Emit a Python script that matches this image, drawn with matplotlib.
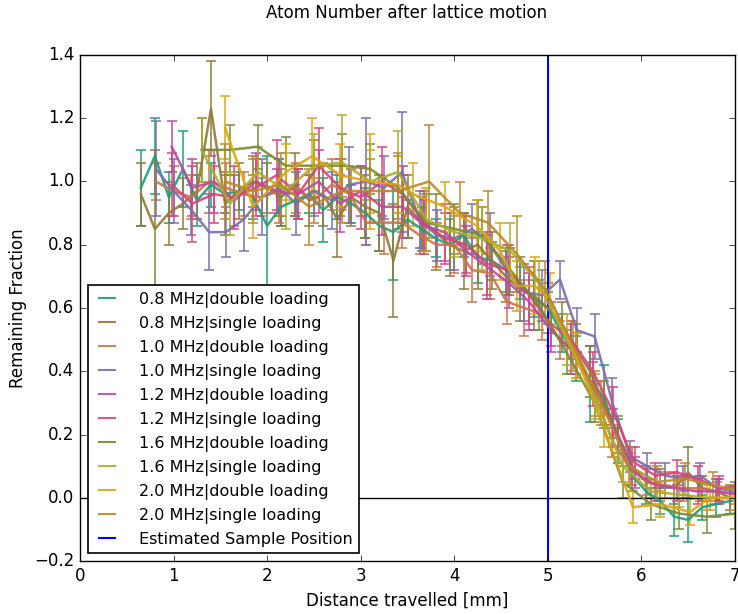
import matplotlib
matplotlib.use("Agg")
import matplotlib.pyplot as plt
from matplotlib.lines import Line2D

plt.style.use('classic')
plt.rcParams['font.family'] = ['DejaVu Sans']

labels = ['0.8 MHz|double loading', '0.8 MHz|single loading',
          '1.0 MHz|double loading', '1.0 MHz|single loading',
          '1.2 MHz|double loading', '1.2 MHz|single loading',
          '1.6 MHz|double loading', '1.6 MHz|single loading',
          '2.0 MHz|double loading', '2.0 MHz|single loading']
colors = ['#1f9e78', '#8f7a3b', '#cb7448', '#7c6ead', '#c247a0',
          '#d9437b', '#7a8b31', '#a9ae2e', '#daa611', '#bd8829']

x08 = [0.65, 0.80, 0.95, 1.10, 1.25, 1.40, 1.55, 1.70, 1.85, 2.00, 2.15, 2.30, 2.45, 2.60,
       2.75, 2.90, 3.05, 3.20, 3.35, 3.50, 3.65, 3.80, 3.95, 4.10, 4.25, 4.40, 4.55, 4.70,
       4.85, 5.00, 5.15, 5.30, 5.45, 5.60, 5.75, 5.90, 6.05, 6.20, 6.35, 6.50, 6.65, 6.80, 6.95]
x10 = [0.81, 1.00, 1.19, 1.38, 1.56, 1.75, 1.94, 2.13, 2.31, 2.50, 2.69, 2.88, 3.06, 3.25,
       3.44, 3.63, 3.81, 4.00, 4.19, 4.38, 4.56, 4.75, 4.94, 5.13, 5.31, 5.50, 5.69, 5.88,
       6.06, 6.25, 6.44, 6.63, 6.81, 7.00]
x12 = [0.98, 1.20, 1.43, 1.65, 1.88, 2.10, 2.33, 2.55, 2.78, 3.00, 3.23, 3.45, 3.68, 3.90,
       4.13, 4.35, 4.58, 4.80, 5.03, 5.25, 5.48, 5.70, 5.93, 6.15, 6.38, 6.60, 6.83, 7.05]
x16 = [1.30, 1.60, 1.90, 2.20, 2.50, 2.80, 3.10, 3.40, 3.70, 4.00, 4.30, 4.60, 4.90, 5.20,
       5.50, 5.80, 6.10, 6.40, 6.70, 7.00]
x20d = [1.55, 1.85, 2.20, 2.48, 2.78, 3.10, 3.40, 3.56, 3.90, 4.24, 4.49, 4.67, 4.86, 5.02,
        5.30, 5.60, 5.91, 6.20, 6.52, 6.73, 7.00]
x20s = [1.55, 1.85, 2.15, 2.45, 2.80, 3.10, 3.40, 3.73, 4.06, 4.36, 4.67, 4.97, 5.27, 5.57,
        5.87, 6.17, 6.47, 6.77, 7.07]

y1 = [0.98, 1.08, 0.95, 1.04, 0.94, 0.99, 0.96, 0.97, 0.95, 0.86, 0.92, 0.94, 0.96, 0.91,
      0.95, 0.93, 0.90, 0.86, 0.84, 0.88, 0.85, 0.82, 0.80, 0.83, 0.76, 0.75, 0.72, 0.68,
      0.63, 0.60, 0.52, 0.44, 0.36, 0.32, 0.18, 0.07, 0.02, -0.01, -0.06, -0.07, -0.03, -0.02, -0.01]
e1 = [0.12, 0.12, 0.08, 0.12, 0.08, 0.07, 0.06, 0.06, 0.07, 0.22, 0.06, 0.05, 0.06, 0.10,
      0.07, 0.06, 0.08, 0.08, 0.15, 0.06, 0.07, 0.06, 0.08, 0.07, 0.08, 0.06, 0.07, 0.05,
      0.06, 0.05, 0.06, 0.07, 0.12, 0.10, 0.07, 0.05, 0.04, 0.04, 0.06, 0.07, 0.04, 0.04, 0.04]
y2 = [0.96, 0.85, 0.90, 0.93, 0.97, 1.23, 0.93, 0.97, 1.00, 0.98, 0.95, 0.99, 0.94, 0.96,
      0.88, 0.95, 0.92, 0.90, 0.75, 0.92, 0.87, 0.84, 0.80, 0.78, 0.80, 0.75, 0.70, 0.66,
      0.64, 0.60, 0.55, 0.47, 0.40, 0.30, 0.20, 0.10, 0.05, 0.04, 0.03, 0.08, 0.03, 0.02, 0.00]
e2 = [0.10, 0.25, 0.10, 0.08, 0.09, 0.15, 0.10, 0.09, 0.08, 0.08, 0.09, 0.10, 0.08, 0.10,
      0.12, 0.09, 0.10, 0.12, 0.18, 0.10, 0.08, 0.12, 0.10, 0.12, 0.14, 0.09, 0.08, 0.10,
      0.11, 0.08, 0.07, 0.08, 0.08, 0.07, 0.06, 0.06, 0.05, 0.05, 0.05, 0.08, 0.04, 0.04, 0.04]
y3 = [1.00, 0.97, 0.95, 1.00, 0.98, 0.96, 0.95, 0.97, 0.98, 0.94, 0.99, 0.96, 0.87, 0.87,
      0.87, 0.83, 0.80, 0.80, 0.72, 0.71, 0.62, 0.60, 0.58, 0.50, 0.45, 0.33, 0.18, 0.09,
      0.05, 0.04, 0.03, 0.03, 0.02, 0.01]
e3 = [0.06, 0.08, 0.07, 0.10, 0.08, 0.07, 0.06, 0.10, 0.08, 0.07, 0.08, 0.09, 0.07, 0.10,
      0.08, 0.06, 0.07, 0.09, 0.10, 0.08, 0.07, 0.09, 0.08, 0.06, 0.07, 0.07, 0.05, 0.05,
      0.04, 0.04, 0.04, 0.04, 0.03, 0.03]
y4 = [1.04, 0.97, 0.91, 0.84, 0.84, 0.88, 0.95, 0.98, 0.93, 0.97, 0.94, 0.99, 1.00, 0.98,
      1.03, 0.88, 0.83, 0.82, 0.85, 0.80, 0.72, 0.65, 0.64, 0.69, 0.53, 0.51, 0.30, 0.13,
      0.10, 0.07, 0.06, 0.07, 0.03, 0.02]
e4 = [0.15, 0.10, 0.08, 0.12, 0.08, 0.10, 0.12, 0.09, 0.10, 0.08, 0.09, 0.12, 0.20, 0.10,
      0.19, 0.09, 0.08, 0.10, 0.08, 0.10, 0.08, 0.09, 0.08, 0.06, 0.07, 0.07, 0.08, 0.05,
      0.04, 0.04, 0.04, 0.04, 0.03, 0.03]
y5 = [1.11, 0.98, 1.00, 0.94, 1.00, 0.97, 0.96, 1.00, 0.93, 0.97, 0.92, 0.92, 0.86, 0.84,
      0.78, 0.73, 0.68, 0.62, 0.53, 0.47, 0.36, 0.22, 0.08, 0.04, 0.03, 0.02, 0.02, 0.01]
e5 = [0.08, 0.09, 0.10, 0.08, 0.09, 0.07, 0.08, 0.10, 0.09, 0.08, 0.09, 0.10, 0.08, 0.09,
      0.08, 0.10, 0.08, 0.09, 0.07, 0.08, 0.07, 0.06, 0.05, 0.05, 0.04, 0.04, 0.04, 0.03]
y6 = [0.99, 0.93, 0.96, 0.95, 0.98, 1.02, 0.96, 1.05, 0.98, 0.95, 1.00, 0.96, 0.87, 0.82,
      0.80, 0.74, 0.72, 0.64, 0.55, 0.50, 0.40, 0.27, 0.11, 0.07, 0.08, 0.06, 0.03, 0.04]
e6 = [0.10, 0.12, 0.09, 0.10, 0.09, 0.11, 0.08, 0.12, 0.09, 0.10, 0.11, 0.09, 0.10, 0.08,
      0.09, 0.10, 0.08, 0.09, 0.07, 0.06, 0.06, 0.08, 0.05, 0.04, 0.04, 0.04, 0.04, 0.03]
y7 = [1.10, 1.10, 1.11, 1.05, 1.05, 1.05, 1.04, 0.98, 0.87, 0.85, 0.83, 0.72, 0.61, 0.46,
      0.30, 0.05, -0.02, -0.05, -0.06, -0.05]
e7 = [0.10, 0.08, 0.07, 0.09, 0.08, 0.10, 0.08, 0.10, 0.09, 0.08, 0.09, 0.07, 0.08, 0.07,
      0.06, 0.05, 0.05, 0.05, 0.05, 0.05]
y8 = [1.10, 0.93, 1.03, 0.97, 1.05, 1.06, 1.00, 1.03, 0.88, 0.84, 0.82, 0.78, 0.68, 0.50,
      0.32, 0.10, 0.02, 0.01, 0.00, 0.00]
e8 = [0.10, 0.10, 0.08, 0.12, 0.10, 0.15, 0.10, 0.13, 0.10, 0.08, 0.10, 0.09, 0.07, 0.08,
      0.07, 0.05, 0.04, 0.04, 0.04, 0.04]
y9 = [1.17, 0.92, 1.03, 1.08, 1.02, 1.00, 0.99, 0.96, 0.92, 0.86, 0.78, 0.67, 0.67, 0.63,
      0.45, 0.22, -0.03, -0.02, -0.045, 0.00, 0.00]
e9 = [0.10, 0.10, 0.09, 0.12, 0.10, 0.15, 0.09, 0.10, 0.08, 0.08, 0.09, 0.08, 0.09, 0.08,
      0.07, 0.06, 0.05, 0.04, 0.04, 0.04, 0.04]
y10 = [1.00, 0.97, 0.99, 0.92, 0.97, 0.97, 0.97, 1.00, 0.90, 0.87, 0.77, 0.66, 0.48, 0.30,
       0.10, 0.05, 0.06, 0.04, 0.02]
e10 = [0.12, 0.10, 0.10, 0.12, 0.10, 0.10, 0.12, 0.18, 0.10, 0.10, 0.12, 0.09, 0.08, 0.07,
       0.06, 0.05, 0.05, 0.04, 0.04]

xs = [x08, x08, x10, x10, x12, x12, x16, x16, x20d, x20s]
ys = [y1, y2, y3, y4, y5, y6, y7, y8, y9, y10]
es = [e1, e2, e3, e4, e5, e6, e7, e8, e9, e10]

sample_pos = 5.0

fig = plt.figure(figsize=(7.38, 6.14), dpi=100, facecolor='white')
ax = fig.add_axes([80/738, 1-561/614, 655/738, 506/614])

handles = []
for x, y, e, c, lab in zip(xs, ys, es, colors, labels):
    ax.errorbar(x, y, yerr=e, color=c, lw=1.8, elinewidth=1.2, capsize=3.5,
                capthick=1.2, alpha=0.9)
    handles.append(Line2D([], [], color=c, lw=1.5, alpha=0.9))

ax.axhline(0, color='k', lw=1.0)
ax.axvline(sample_pos, color='b', lw=1.5)
handles.append(Line2D([], [], color='b', lw=1.5))

ax.set_xlim(0, 7)
ax.set_ylim(-0.2, 1.4)
ax.set_xlabel('Distance travelled [mm]', fontsize=12)
ax.set_ylabel('Remaining Fraction', fontsize=12)
fig.text(407/738, 1-13/614, 'Atom Number after lattice motion', ha='center', va='center',
         fontsize=12)

leg = ax.legend(handles, labels + ['Estimated Sample Position'], loc='lower left',
                fontsize=11.5, handlelength=1.6, handletextpad=1.2, labelspacing=0.5,
                borderaxespad=0.5)
leg.get_frame().set_linewidth(1.2)

fig.savefig('out.png', dpi=100, facecolor='white')
